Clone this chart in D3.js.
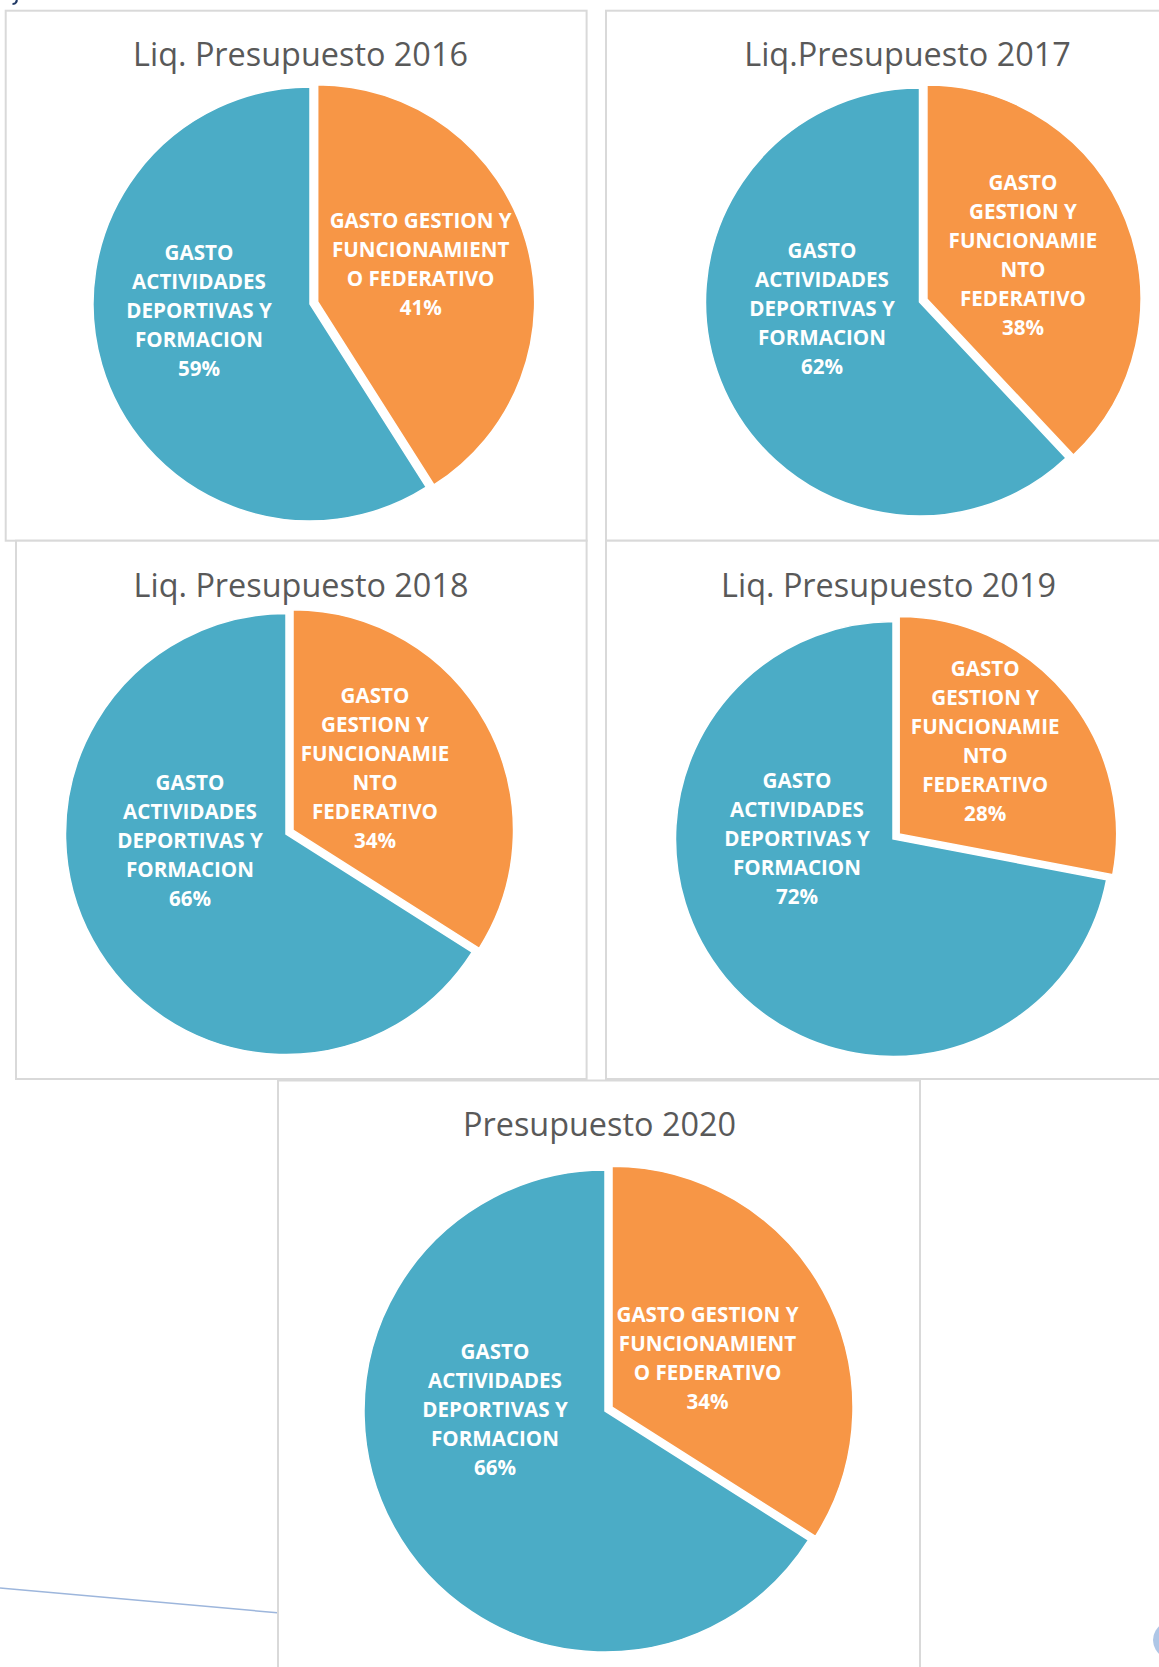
<!DOCTYPE html>
<html><head><meta charset="utf-8">
<script src="https://cdn.jsdelivr.net/npm/d3@7"></script>
<style>html,body{margin:0;padding:0;background:#fff;overflow:hidden}</style>
</head><body>
<svg id="c" width="1159" height="1667"></svg>
<script>
// ---- data ----
const titles = ["Liq. Presupuesto 2016","Liq.Presupuesto 2017","Liq. Presupuesto 2018","Liq. Presupuesto 2019","Presupuesto 2020"];
const categories = ["GASTO GESTION Y FUNCIONAMIENTO FEDERATIVO","GASTO ACTIVIDADES DEPORTIVAS Y FORMACION"];
const gestionValues = [41, 38, 34, 28, 34];
const actividadesValues = [59, 62, 66, 72, 66];
const actividadesLines = ["GASTO","ACTIVIDADES","DEPORTIVAS Y","FORMACION"];
const gestionLinesWide = ["GASTO GESTION Y","FUNCIONAMIENT","O FEDERATIVO"];
const gestionLinesNarrow = ["GASTO","GESTION Y","FUNCIONAMIE","NTO","FEDERATIVO"];
const gestionWrap = ["wide","narrow","narrow","narrow","wide"];
const sliceColors = ["#F79646", "#4BACC6"];

// ---- layout ----
const layout = [
 {box:[5.7,10.7,586.6,540.7], title:[300.5,66], c:[310,304], r:217, bl:[-111,7], ol:[103,-38]},
 {box:[606,10.7,1175,540.7], title:[907.5,66], c:[919.5,302], r:214, bl:[-97.5,7], ol:[96,-44]},
 {box:[16,540.7,586.6,1079], title:[301,597], c:[286,834], r:220.5, bl:[-96,7], ol:[82,-62]},
 {box:[606,540.7,1175,1079], title:[888.5,597], c:[893,839], r:217.5, bl:[-96,0], ol:[86,-92.5]},
 {box:[278,1080.5,920,1700], title:[599.5,1135.5], c:[605,1411], r:241, bl:[-110,-1], ol:[95.5,-49]}
];
const explode = 8, lineH = 29;

const svg = d3.select("#c");

// stray decorations from the source page
svg.append("path").attr("d", "M17,0 L16,2.5 Q15,4 12.5,4").attr("fill", "none")
   .attr("stroke", "#1F3864").attr("stroke-width", 2.2);
svg.append("line").attr("x1", 0).attr("y1", 1588).attr("x2", 280).attr("y2", 1613)
   .attr("stroke", "#9DB6DC").attr("stroke-width", 1.5);
svg.append("ellipse").attr("cx", 1186).attr("cy", 1640).attr("rx", 33).attr("ry", 24)
   .attr("fill", "#AEC6E6");

const pie = d3.pie().sort(null).value(d => d.value).startAngle(0).endAngle(2 * Math.PI);

titles.forEach((t, i) => {
  const L = layout[i];
  const g = svg.append("g");
  g.append("rect").attr("x", L.box[0]).attr("y", L.box[1])
    .attr("width", L.box[2] - L.box[0]).attr("height", L.box[3] - L.box[1])
    .attr("fill", "#fff").attr("stroke", "#D9D9D9").attr("stroke-width", 2);
  g.append("text").attr("x", L.title[0]).attr("y", L.title[1]).attr("text-anchor", "middle")
    .attr("font-family", "Open Sans").attr("font-size", 32.4).attr("fill", "#595959").text(t);

  const data = [
    {name: categories[0], value: gestionValues[i], color: sliceColors[0]},
    {name: categories[1], value: actividadesValues[i], color: sliceColors[1]}
  ];
  const arcs = pie(data);
  const arc = d3.arc().innerRadius(0).outerRadius(L.r);
  const pg = g.append("g").attr("transform", `translate(${L.c[0]},${L.c[1]})`);
  arcs.forEach((a, k) => {
    const mid = (a.startAngle + a.endAngle) / 2;
    const off = k === 0 ? explode : 0;
    const dx = off * Math.sin(mid), dy = -off * Math.cos(mid);
    pg.append("path").attr("d", arc(a)).attr("transform", `translate(${dx},${dy})`)
      .attr("fill", a.data.color).attr("stroke", "#fff").attr("stroke-width", 1.5);
    const pct = Math.round(a.data.value) + "%";
    const lines = (k === 0 ? (gestionWrap[i] === "wide" ? gestionLinesWide : gestionLinesNarrow) : actividadesLines).concat([pct]);
    const lp = k === 0 ? L.ol : L.bl;
    const lx = dx + lp[0], ly = dy + lp[1];
    const y0 = ly - (lines.length - 1) / 2 * lineH;
    lines.forEach((s, j) => {
      pg.append("text").attr("x", lx).attr("y", y0 + j * lineH + 7.3)
        .attr("text-anchor", "middle").attr("font-family", "Open Sans").attr("font-weight", 700)
        .attr("font-size", 20.6).attr("fill", "#fff").text(s);
    });
  });
});
</script>
</body></html>
